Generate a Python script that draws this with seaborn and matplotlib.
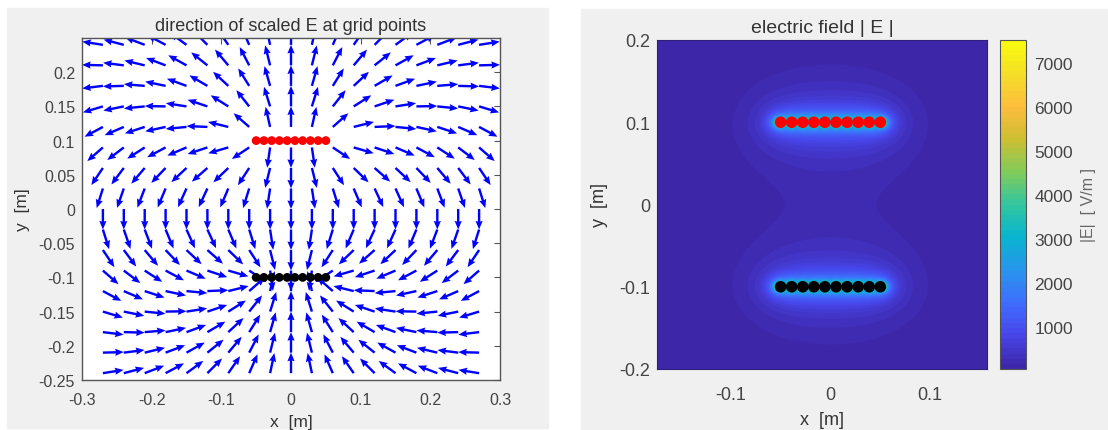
import numpy as np
import matplotlib
matplotlib.use('Agg')
import matplotlib.pyplot as plt
from matplotlib.colors import LinearSegmentedColormap
from matplotlib.patches import Rectangle
import seaborn as sns
import pandas as pd

# two rods of 10 point charges each (red = +, black = -)
rod_x = [-0.05, -0.0389, -0.0278, -0.0167, -0.0056, 0.0056, 0.0167, 0.0278, 0.0389, 0.05]
pos_rod_y = 0.1
neg_rod_y = -0.1
kq = 0.11  # k*q for one charge [V*m]

# grid points for the arrow plot
grid_x = [-0.27, -0.24, -0.21, -0.18, -0.15, -0.12, -0.09, -0.06, -0.03, 0.0,
          0.03, 0.06, 0.09, 0.12, 0.15, 0.18, 0.21, 0.24, 0.27]
grid_y = [-0.24, -0.21, -0.18, -0.15, -0.12, -0.09, -0.06, -0.03, 0.0,
          0.03, 0.06, 0.09, 0.12, 0.15, 0.18, 0.21, 0.24]
arrow_len = 0.03

# map region and colour range of |E|
map_x = (-0.174, 0.157)
map_y = (-0.2, 0.2)
e_min, e_max = 43, 7520
cbar_ticks = [1000, 2000, 3000, 4000, 5000, 6000, 7000]

charges = pd.DataFrame({
    'x': rod_x + rod_x,
    'y': [pos_rod_y] * len(rod_x) + [neg_rod_y] * len(rod_x),
    'sign': ['+'] * len(rod_x) + ['-'] * len(rod_x),
})


def efield(X, Y):
    Ex = np.zeros_like(X)
    Ey = np.zeros_like(X)
    for _, c in charges.iterrows():
        s = 1.0 if c['sign'] == '+' else -1.0
        dx = X - c['x']
        dy = Y - c['y']
        r3 = np.maximum((dx**2 + dy**2) ** 1.5, 1e-12)
        Ex += s * kq * dx / r3
        Ey += s * kq * dy / r3
    return Ex, Ey


# parula-like map with 64 levels (matlab default)
parula = LinearSegmentedColormap.from_list('parula', [
    (0.0, (0.242, 0.150, 0.660)),
    (0.1, (0.280, 0.278, 0.922)),
    (0.2, (0.244, 0.436, 0.999)),
    (0.3, (0.154, 0.590, 0.922)),
    (0.4, (0.030, 0.708, 0.816)),
    (0.5, (0.194, 0.776, 0.625)),
    (0.6, (0.504, 0.799, 0.348)),
    (0.7, (0.800, 0.750, 0.200)),
    (0.8, (0.990, 0.740, 0.240)),
    (0.9, (0.960, 0.870, 0.160)),
    (1.0, (0.976, 0.983, 0.054)),
], N=64)

sns.set_style('white')
plt.rcParams['font.family'] = ['Liberation Sans', 'DejaVu Sans']
txt = '#333333'
tick_c = '#444444'

fig = plt.figure(figsize=(11.08, 4.31), dpi=100)
W, H = 1108, 431
fig.patches.append(Rectangle((7 / W, 1 - 429 / H), 541 / W, 420 / H,
                             transform=fig.transFigure, color='#f0f0f0', zorder=-5))
fig.patches.append(Rectangle((581 / W, 0), 527 / W, 1 - 10 / H,
                             transform=fig.transFigure, color='#f0f0f0', zorder=-5))

# ---------- left: direction of scaled E ----------
ax1 = fig.add_axes([82 / W, 1 - 381 / H, 418 / W, 342 / H])
ax1.set_facecolor('white')
GX, GY = np.meshgrid(grid_x, grid_y)
Ex, Ey = efield(GX, GY)
mag = np.hypot(Ex, Ey)
ax1.quiver(GX, GY, Ex / mag * arrow_len, Ey / mag * arrow_len,
           angles='xy', scale_units='xy', scale=1, color='#0000ff',
           units='dots', width=2.4, headwidth=3.0, headlength=3.6,
           headaxislength=3.3, zorder=2)
sns.scatterplot(data=charges, x='x', y='y', hue='sign',
                palette={'+': '#ff0000', '-': '#000000'}, s=40,
                edgecolor='none', legend=False, ax=ax1, zorder=3)
ax1.set_xlim(-0.3, 0.3)
ax1.set_ylim(-0.25, 0.25)
ax1.set_xticks([-0.3, -0.2, -0.1, 0, 0.1, 0.2, 0.3])
ax1.set_xticklabels(['-0.3', '-0.2', '-0.1', '0', '0.1', '0.2', '0.3'])
ax1.set_yticks([-0.25, -0.2, -0.15, -0.1, -0.05, 0, 0.05, 0.1, 0.15, 0.2])
ax1.set_yticklabels(['-0.25', '-0.2', '-0.15', '-0.1', '-0.05', '0', '0.05', '0.1', '0.15', '0.2'])
ax1.tick_params(direction='in', length=4, width=0.8, top=True, right=True,
                labelsize=11.5, labelcolor=tick_c, color='#555555', pad=5)
ax1.tick_params(axis='x', pad=9)
for sp in ax1.spines.values():
    sp.set_color('#555555')
    sp.set_linewidth(1.0)
ax1.set_xlabel('x  [m]', fontsize=12.5, color=txt, labelpad=5)
ax1.set_ylabel('y  [m]', fontsize=12.5, color=txt, labelpad=6)
ax1.set_title('direction of scaled E at grid points', fontsize=13, color=txt, pad=6)

# ---------- right: |E| map ----------
ax2 = fig.add_axes([657 / W, 1 - 370 / H, 330 / W, 329 / H])
mx = np.linspace(map_x[0], map_x[1], 700)
my = np.linspace(map_y[0], map_y[1], 820)
MX, MY = np.meshgrid(mx, my)
Fx, Fy = efield(MX, MY)
E = np.clip(np.hypot(Fx, Fy), e_min, e_max)
im = ax2.imshow(E, origin='lower', extent=[map_x[0], map_x[1], map_y[0], map_y[1]],
                cmap=parula, vmin=e_min, vmax=e_max, aspect='auto',
                interpolation='bilinear', zorder=1)
sns.scatterplot(data=charges, x='x', y='y', hue='sign',
                palette={'+': '#ff0000', '-': '#000000'}, s=70,
                edgecolor='none', legend=False, ax=ax2, zorder=3)
ax2.set_xlim(*map_x)
ax2.set_ylim(*map_y)
ax2.set_xticks([-0.1, 0, 0.1])
ax2.set_xticklabels(['-0.1', '0', '0.1'])
ax2.set_yticks([-0.2, -0.1, 0, 0.1, 0.2])
ax2.set_yticklabels(['-0.2', '-0.1', '0', '0.1', '0.2'])
ax2.tick_params(length=0, labelsize=13, labelcolor=tick_c, pad=5)
ax2.tick_params(axis='x', pad=12)
for sp in ax2.spines.values():
    sp.set_color('#30207a')
    sp.set_linewidth(0.8)
ax2.set_xlabel('x  [m]', fontsize=13, color=txt, labelpad=6)
ax2.set_ylabel('y  [m]', fontsize=13, color=txt, labelpad=8)
ax2.set_title('electric field | E |', fontsize=14, color=txt, pad=6)

cax = fig.add_axes([1000 / W, 1 - 370 / H, 26 / W, 329 / H])
cb = fig.colorbar(im, cax=cax, ticks=cbar_ticks)
cb.outline.set_edgecolor('#555555')
cb.outline.set_linewidth(0.8)
cax.tick_params(direction='in', length=3, labelsize=12.5, labelcolor=tick_c,
                color='#333333', pad=6)
cb.set_label('|E|  [ V/m ]', fontsize=11.5, color='#666666', labelpad=6)

fig.savefig('out.png', dpi=100, facecolor='white')
